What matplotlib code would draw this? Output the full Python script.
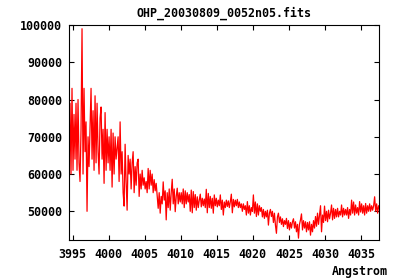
import matplotlib
matplotlib.use("Agg")
import matplotlib.pyplot as plt
import numpy as np

# spectrum header (FITS style linear wavelength axis)
CRVAL1 = 3994.5
CDELT1 = 0.139

# flux values, in units of 1000
flux_k = [
    58, 79, 60, 83, 61, 76, 64, 79, 61, 80, 63, 58, 72, 99, 60, 83, 66, 74, 50, 70,
    62, 72, 83, 64, 77, 61, 81, 63, 79, 66, 60, 75, 78, 64, 72, 57.5, 76.5, 61, 72, 63,
    70,
    61, 72, 56.5, 71, 60, 70, 64, 67, 70, 58, 74, 60, 66, 55, 51.4, 68, 58, 50.3, 65,
    60, 64, 56, 63, 66, 55, 62, 57, 63, 64, 54, 60, 56, 61, 57, 59, 56, 58, 55, 61.5,
    56,
    61, 57, 60, 55, 58.5, 55.5, 57.5, 54, 50.8, 55, 49.5, 54, 52, 57.9, 53, 55.5, 47.7, 55, 51, 56,
    50.3, 55, 58.6, 52, 56, 49.9, 54, 56.2, 52, 55, 52.5, 55, 52, 56, 51, 55.5, 52, 55, 52.5, 54.5,
    50, 55.7, 49.6, 55.3, 51, 54.5, 50.3, 53.9, 51, 53, 54.6, 51.2, 53.5, 51.5, 53.3, 51, 55.9, 49.6, 54.8, 51,
    54, 50.8, 53.5, 49.5, 54.4, 51.5, 53.5, 51.2, 53, 51.5, 54.4, 50.5, 53, 49, 52.5, 51, 53, 51.3, 52.8, 51,
    52.6, 54.6, 49.6, 53.2, 51.2, 53, 51.5, 53.2, 51, 52.5, 51, 52, 50, 52, 50.5, 51.5, 49, 52.6, 49.5, 51.5,
    49, 51, 50, 54.4, 49.5, 52.5, 48.6, 52, 49, 51.5, 50, 51, 48.5, 50.5, 48.1, 50, 48.5, 50.3, 46.3, 49.5,
    50.5, 48.6, 50, 47, 49.5, 46.3, 44.1, 48.5, 49.5, 47, 48.5, 46.5, 48, 45.9, 47.5, 46.5, 48.1, 45.4, 47.5, 45,
    47, 45.5, 47.2, 48, 45.5, 47.2, 44.5, 46.5, 42.8, 46.5, 47.7, 49.3, 45, 47.5, 45.5, 47.2, 44.5, 47, 45,
    47.2, 43.6, 46.5, 44.5, 47.5, 45.5, 48.6, 46, 49.5, 46.5, 49, 51.5, 44.5, 49, 47, 51.4, 47.5, 50, 47.2, 50.3,
    48, 49.5, 51.7, 47.7, 50.8, 48.1, 50.5, 48.5, 50.8, 48.5, 50, 49, 51.7, 48.5, 50.8, 49, 50.5, 49, 51,
    48.1, 50.5, 49, 53, 49.5, 52.5, 49, 51.7, 49.5, 51, 49, 52.6, 49.8, 52, 49.5, 51.5, 49, 52.1, 49.5, 51.5,
    50, 52, 50, 51.5, 50.3, 51.5, 53.9, 50, 52, 49.5, 51.5, 50.5,
]

xticks = [3995, 4000, 4005, 4010, 4015, 4020, 4025, 4030, 4035]
yticks = [50000, 60000, 70000, 80000, 90000, 100000]

flux = np.asarray(flux_k) * 1000.0
wave = CRVAL1 + CDELT1 * np.arange(len(flux))

plt.rcParams['font.family'] = ['DejaVu Sans Mono']
plt.rcParams['font.weight'] = 'bold'
plt.rcParams['font.size'] = 8.4

fig = plt.figure(figsize=(4.0, 2.8), dpi=100)
ax = fig.add_axes([69/400, 1 - 240/280, 310/400, 215/280])

ax.plot(wave, flux, color='#ff0000', lw=0.9)

ax.set_xlim(3994.5, 4037.5)
ax.set_ylim(42300, 100000)
ax.set_xticks(xticks)
ax.set_yticks(yticks)
ax.tick_params(direction='in', length=3.5, width=0.8, top=True, right=True,
               colors='black')
ax.tick_params(axis='y', pad=5)
ax.tick_params(axis='x', pad=6)
for s in ax.spines.values():
    s.set_linewidth(0.8)

ax.set_title("OHP_20030809_0052n05.fits", fontsize=8.4, fontweight='bold', pad=6)
fig.text(388/400, 1 - 271/280, "Angstrom", ha='right', va='center',
         fontsize=8.4, fontweight='bold')

plt.savefig("out.png", dpi=100)
